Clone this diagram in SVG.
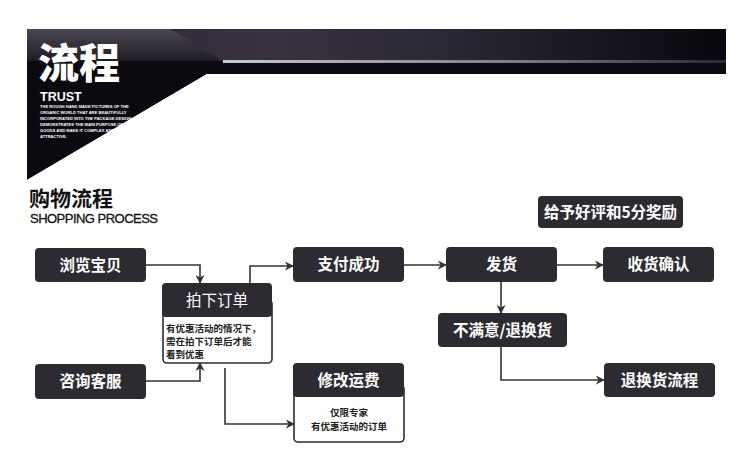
<svg xmlns="http://www.w3.org/2000/svg" width="750" height="466" viewBox="0 0 750 466">
<defs>
<linearGradient id="band" x1="0" y1="0" x2="1" y2="0">
<stop offset="0" stop-color="#2a2733"/>
<stop offset="0.35" stop-color="#3a3140"/>
<stop offset="0.6" stop-color="#2b2835"/>
<stop offset="1" stop-color="#08070d"/>
</linearGradient>
<linearGradient id="bandL" x1="0" y1="0" x2="0" y2="1">
<stop offset="0" stop-color="#4a4752"/>
<stop offset="1" stop-color="#1e1c24"/>
</linearGradient>
<linearGradient id="hl" x1="0" y1="0" x2="1" y2="0">
<stop offset="0" stop-color="#c8c8d0"/>
<stop offset="0.6" stop-color="#7a7882"/>
<stop offset="1" stop-color="#2a2830"/>
</linearGradient>
<marker id="arr" viewBox="0 0 10 10" refX="9" refY="5" markerWidth="9" markerHeight="9" markerUnits="userSpaceOnUse" orient="auto">
<path d="M0,0 L10,5 L0,10 L3,5 Z" fill="#333"/>
</marker>
</defs>
<style>
.node{fill:#2d2b32}
.box{fill:#fff;stroke:#2d2b32;stroke-width:1.6}
.t{font-family:"Noto Sans CJK SC","Noto Sans",sans-serif;font-weight:bold;fill:#fff;font-size:15.5px;text-anchor:middle}
.s{font-family:"Noto Sans CJK SC",sans-serif;font-weight:bold;fill:#222;font-size:9.5px}
.c{fill:none;stroke:#333;stroke-width:1.6;marker-end:url(#arr)}
.fine{font-family:"Liberation Sans",Arial,sans-serif;font-size:4.1px;fill:#fff;font-weight:bold}
</style>
<rect width="750" height="466" fill="#fff"/>
<g id="header">
<rect x="27" y="29" width="699" height="45" fill="#0b0a10"/>
<rect x="27" y="29" width="699" height="32" fill="url(#band)"/>
<polygon points="27,29 170,29 223,61 27,61" fill="url(#bandL)"/>
<rect x="223" y="60" width="503" height="3" fill="url(#hl)"/>
<polygon points="27,61 223,61 223,63 726,63 726,74 207,74 27,180" fill="#0b0a10"/>
<text x="38" y="78" font-family="Noto Sans CJK SC,sans-serif" font-weight="900" font-size="41" fill="#fff">流程</text>
<text x="40" y="101" font-family="Liberation Sans,Arial,sans-serif" font-weight="bold" font-size="12.5" fill="#fff">TRUST</text>
<text class="fine" x="40" y="108">THE ROUGH HAND MADE PICTURES OF THE</text>
<text class="fine" x="40" y="114">ORGANIC WORLD THAT ARE BEAUTIFULLY</text>
<text class="fine" x="40" y="120">INCORPORATED INTO THE PACKAGE DESIGN</text>
<text class="fine" x="40" y="126">DEMONSTRATES THE MAIN PURPOSE OF THE</text>
<text class="fine" x="40" y="132">GOODS AND MAKE IT COMPLEX AND</text>
<text class="fine" x="40" y="138">ATTRACTIVE.</text>
<polygon points="207,74 27,180 27,190 750,190 750,74" fill="#fff"/>
</g>
<g id="title">
<text x="29" y="206" font-family="Noto Sans CJK SC,sans-serif" font-weight="bold" font-size="21" fill="#111">购物流程</text>
<text x="30" y="223" font-family="Liberation Sans,Arial,sans-serif" font-size="13" fill="#111" stroke="#111" stroke-width="0.3" textLength="128">SHOPPING PROCESS</text>
</g>
<g id="connectors">
<path class="c" d="M146,265 H200 V283"/>
<path class="c" d="M250,283 V266 H293"/>
<path class="c" d="M146,381 H200 V363"/>
<path class="c" d="M225,368 V424 H294"/>
<path class="c" d="M404,265 H446"/>
<path class="c" d="M557,265 H603"/>
<path class="c" d="M501,282 V313"/>
<path class="c" d="M501,347 V380 H604"/>
</g>
<g id="n-browse"><rect class="node" x="35" y="248" width="111" height="34" rx="4"/><text class="t" x="90.5" y="271">浏览宝贝</text></g>
<g id="n-order">
<rect class="box" x="163" y="300" width="109" height="63" rx="4"/>
<rect class="node" x="162" y="283" width="110" height="34" rx="4"/>
<text class="t" x="217" y="306" style="font-weight:normal">拍下订单</text>
<text class="s" x="166" y="332">有优惠活动的情况下，</text>
<text class="s" x="166" y="345">需在拍下订单后才能</text>
<text class="s" x="166" y="358">看到优惠</text>
</g>
<g id="n-pay"><rect class="node" x="293" y="247" width="111" height="35" rx="4"/><text class="t" x="348.5" y="270">支付成功</text></g>
<g id="n-ship"><rect class="node" x="446" y="247" width="111" height="35" rx="4"/><text class="t" x="501.5" y="270">发货</text></g>
<g id="n-confirm"><rect class="node" x="603" y="247" width="111" height="35" rx="4"/><text class="t" x="658.5" y="270">收货确认</text></g>
<g id="n-review"><rect class="node" x="538" y="196" width="145" height="32" rx="4"/><text class="t" x="610.5" y="218">给予好评和5分奖励</text></g>
<g id="n-unsat"><rect class="node" x="438" y="313" width="129" height="34" rx="4"/><text class="t" x="502.5" y="336">不满意/退换货</text></g>
<g id="n-return"><rect class="node" x="604" y="363" width="111" height="34" rx="4"/><text class="t" x="659.5" y="386">退换货流程</text></g>
<g id="n-consult"><rect class="node" x="35" y="364" width="111" height="35" rx="4"/><text class="t" x="90.5" y="387">咨询客服</text></g>
<g id="n-fee">
<rect class="box" x="294" y="385" width="110" height="57" rx="4"/>
<rect class="node" x="293" y="363" width="111" height="34" rx="4"/>
<text class="t" x="348.5" y="386">修改运费</text>
<text class="s" x="349" y="416" text-anchor="middle">仅限专家</text>
<text class="s" x="349" y="430" text-anchor="middle">有优惠活动的订单</text>
</g>
</svg>
